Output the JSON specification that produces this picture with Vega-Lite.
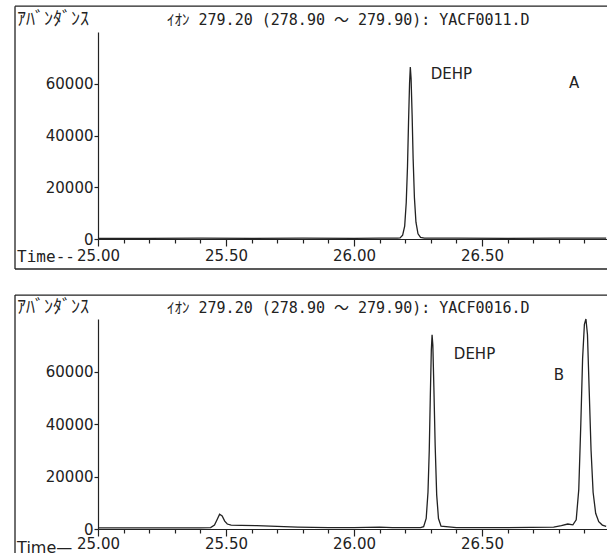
{
  "$schema": "https://vega.github.io/schema/vega-lite/v6.json",
  "background": "white",
  "padding": {"left": 14, "top": 5, "right": 0, "bottom": 0},
  "autosize": {"type": "pad"},
  "spacing": 24,
  "config": {
    "view": {"stroke": null},
    "font": "DejaVu Sans, Noto Sans CJK JP",
    "text": {"align": "left", "baseline": "middle", "color": "#222"},
    "axis": {
      "grid": false,
      "title": null,
      "domainColor": "#222",
      "tickColor": "#222",
      "labelColor": "#222",
      "labelFont": "DejaVu Sans",
      "labelFontSize": 15,
      "domainWidth": 1.2,
      "tickWidth": 1.2
    }
  },
  "datasets": {
    "traceA": [
      {"t": 25.00, "v": 250}, {"t": 25.20, "v": 250}, {"t": 25.40, "v": 300},
      {"t": 25.60, "v": 250}, {"t": 25.80, "v": 300}, {"t": 26.00, "v": 250},
      {"t": 26.10, "v": 300}, {"t": 26.17, "v": 350}, {"t": 26.18, "v": 400},
      {"t": 26.19, "v": 1500}, {"t": 26.198, "v": 5000}, {"t": 26.204, "v": 14000},
      {"t": 26.209, "v": 28000}, {"t": 26.213, "v": 45000}, {"t": 26.217, "v": 60000},
      {"t": 26.22, "v": 66500}, {"t": 26.223, "v": 62000}, {"t": 26.227, "v": 48000},
      {"t": 26.231, "v": 31000}, {"t": 26.236, "v": 16000}, {"t": 26.242, "v": 6500},
      {"t": 26.25, "v": 2000}, {"t": 26.26, "v": 600}, {"t": 26.275, "v": 350},
      {"t": 26.40, "v": 300}, {"t": 26.60, "v": 250}, {"t": 26.80, "v": 300},
      {"t": 26.985, "v": 300}
    ],
    "traceB": [
      {"t": 25.00, "v": 400}, {"t": 25.20, "v": 450}, {"t": 25.40, "v": 450},
      {"t": 25.44, "v": 550}, {"t": 25.455, "v": 1500}, {"t": 25.465, "v": 3500},
      {"t": 25.475, "v": 5600}, {"t": 25.485, "v": 5000}, {"t": 25.495, "v": 3000},
      {"t": 25.505, "v": 1900}, {"t": 25.52, "v": 1500}, {"t": 25.56, "v": 1400},
      {"t": 25.62, "v": 1300}, {"t": 25.70, "v": 1000}, {"t": 25.78, "v": 700},
      {"t": 25.90, "v": 500}, {"t": 26.00, "v": 500}, {"t": 26.10, "v": 700},
      {"t": 26.15, "v": 500}, {"t": 26.26, "v": 500}, {"t": 26.272, "v": 900},
      {"t": 26.282, "v": 4000}, {"t": 26.289, "v": 14000}, {"t": 26.294, "v": 30000},
      {"t": 26.298, "v": 50000}, {"t": 26.302, "v": 68000}, {"t": 26.305, "v": 74000},
      {"t": 26.308, "v": 70000}, {"t": 26.312, "v": 54000}, {"t": 26.317, "v": 32000},
      {"t": 26.323, "v": 13000}, {"t": 26.33, "v": 4000}, {"t": 26.34, "v": 1100},
      {"t": 26.40, "v": 500}, {"t": 26.60, "v": 500}, {"t": 26.78, "v": 700},
      {"t": 26.81, "v": 1300}, {"t": 26.835, "v": 1900}, {"t": 26.855, "v": 1600},
      {"t": 26.868, "v": 3500}, {"t": 26.878, "v": 15000}, {"t": 26.886, "v": 40000},
      {"t": 26.893, "v": 65000}, {"t": 26.90, "v": 78000}, {"t": 26.906, "v": 80000},
      {"t": 26.912, "v": 74000}, {"t": 26.919, "v": 52000}, {"t": 26.926, "v": 30000},
      {"t": 26.934, "v": 14000}, {"t": 26.944, "v": 6000}, {"t": 26.956, "v": 2800},
      {"t": 26.97, "v": 1500}, {"t": 26.985, "v": 1000}
    ]
  },
  "vconcat": [
    {
      "width": 509,
      "height": 207,
      "encoding": {
        "x": {
          "field": "t", "type": "quantitative",
          "scale": {"domain": [25, 26.98828], "nice": false, "zero": false},
          "axis": {
            "values": [25.0, 25.1, 25.2, 25.3, 25.4, 25.5, 25.6, 25.7, 25.8, 25.9, 26.0, 26.1, 26.2, 26.3, 26.4, 26.5, 26.6, 26.7, 26.8, 26.9],
            "labelExpr": "abs(datum.value * 2 - round(datum.value * 2)) < 0.001 ? format(datum.value, '.2f') : ''",
            "tickSize": {"condition": {"test": "abs(datum.value * 2 - round(datum.value * 2)) < 0.001", "value": 7}, "value": 4},
            "labelFlush": false, "labelOverlap": false, "labelPadding": 2
          }
        },
        "y": {
          "field": "v", "type": "quantitative",
          "scale": {"domain": [0, 80000], "nice": false, "zero": false},
          "axis": {"values": [0, 20000, 40000, 60000], "format": "d", "tickSize": 4, "labelPadding": 1}
        }
      },
      "layer": [
        {
          "data": {"name": "traceA"},
          "mark": {"type": "line", "color": "#222", "strokeWidth": 1.3}
        },
        {
          "data": {"values": [
            {"t": 24.6758, "t2": 26.98828, "v": 90000, "v2": 90000},
            {"t": 24.6758, "t2": 24.6758, "v": 90000, "v2": -11600},
            {"t": 24.6758, "t2": 26.98828, "v": -11600, "v2": -11600}
          ]},
          "mark": {"type": "rule", "color": "#222", "strokeWidth": 1.3},
          "encoding": {"x2": {"field": "t2"}, "y2": {"field": "v2"}}
        },
        {
          "data": {"values": [{"t": 24.684, "v": 84700, "label": "ｱﾊﾞﾝﾀﾞﾝｽ"}]},
          "mark": {"type": "text", "font": "Noto Sans CJK JP", "fontSize": 18},
          "encoding": {"text": {"field": "label"}}
        },
        {
          "data": {"values": [{"t": 25.2695, "v": 84700, "label": "ｲｵﾝ 279.20 (278.90 ～ 279.90): YACF0011.D"}]},
          "mark": {"type": "text", "font": "DejaVu Sans Mono, Noto Sans CJK JP", "fontSize": 15},
          "encoding": {"text": {"field": "label"}}
        },
        {
          "data": {"values": [{"t": 24.684, "v": -7000, "label": "Time--"}]},
          "mark": {"type": "text", "font": "DejaVu Sans Mono", "fontSize": 16},
          "encoding": {"text": {"field": "label"}}
        },
        {
          "data": {"values": [
            {"t": 26.30, "v": 63800, "label": "DEHP"},
            {"t": 26.84, "v": 60300, "label": "A"}
          ]},
          "mark": {"type": "text", "font": "DejaVu Sans", "fontSize": 15},
          "encoding": {"text": {"field": "label"}}
        }
      ]
    },
    {
      "width": 509,
      "height": 210,
      "encoding": {
        "x": {
          "field": "t", "type": "quantitative",
          "scale": {"domain": [25, 26.98828], "nice": false, "zero": false},
          "axis": {
            "values": [25.0, 25.1, 25.2, 25.3, 25.4, 25.5, 25.6, 25.7, 25.8, 25.9, 26.0, 26.1, 26.2, 26.3, 26.4, 26.5, 26.6, 26.7, 26.8, 26.9],
            "labelExpr": "abs(datum.value * 2 - round(datum.value * 2)) < 0.001 ? format(datum.value, '.2f') : ''",
            "tickSize": {"condition": {"test": "abs(datum.value * 2 - round(datum.value * 2)) < 0.001", "value": 7}, "value": 4},
            "labelFlush": false, "labelOverlap": false, "labelPadding": 0
          }
        },
        "y": {
          "field": "v", "type": "quantitative",
          "scale": {"domain": [0, 80000], "nice": false, "zero": false},
          "axis": {"values": [0, 20000, 40000, 60000], "format": "d", "tickSize": 4, "labelPadding": 1}
        }
      },
      "layer": [
        {
          "data": {"name": "traceB"},
          "mark": {"type": "line", "color": "#222", "strokeWidth": 1.3}
        },
        {
          "data": {"values": [
            {"t": 24.6758, "t2": 26.98828, "v": 89100, "v2": 89100},
            {"t": 24.6758, "t2": 24.6758, "v": 89100, "v2": -9900}
          ]},
          "mark": {"type": "rule", "color": "#222", "strokeWidth": 1.3},
          "encoding": {"x2": {"field": "t2"}, "y2": {"field": "v2"}}
        },
        {
          "data": {"values": [{"t": 24.684, "v": 84300, "label": "ｱﾊﾞﾝﾀﾞﾝｽ"}]},
          "mark": {"type": "text", "font": "Noto Sans CJK JP", "fontSize": 18},
          "encoding": {"text": {"field": "label"}}
        },
        {
          "data": {"values": [{"t": 25.2695, "v": 84300, "label": "ｲｵﾝ 279.20 (278.90 ～ 279.90): YACF0016.D"}]},
          "mark": {"type": "text", "font": "DejaVu Sans Mono, Noto Sans CJK JP", "fontSize": 15},
          "encoding": {"text": {"field": "label"}}
        },
        {
          "data": {"values": [{"t": 24.684, "v": -7200, "label": "Time—"}]},
          "mark": {"type": "text", "font": "DejaVu Sans", "fontSize": 16},
          "encoding": {"text": {"field": "label"}}
        },
        {
          "data": {"values": [
            {"t": 26.39, "v": 66700, "label": "DEHP"},
            {"t": 26.78, "v": 58700, "label": "B"}
          ]},
          "mark": {"type": "text", "font": "DejaVu Sans", "fontSize": 15},
          "encoding": {"text": {"field": "label"}}
        }
      ]
    }
  ]
}
